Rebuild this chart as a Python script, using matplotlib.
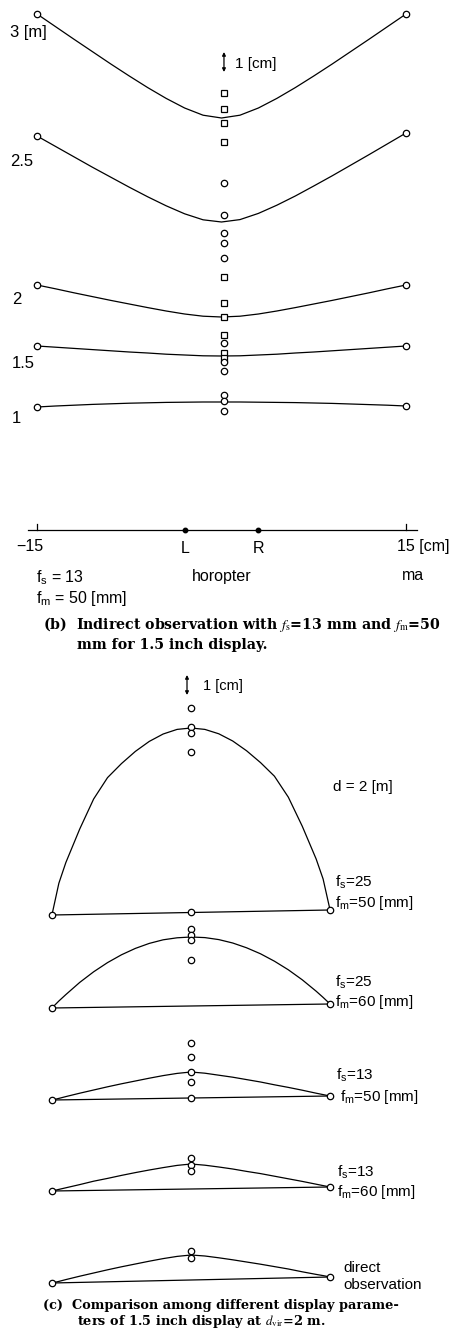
import matplotlib
matplotlib.use("Agg")
import matplotlib.pyplot as plt

plt.rcParams["font.family"] = ["Liberation Sans", "DejaVu Sans"]
plt.rcParams["mathtext.fontset"] = "custom"
plt.rcParams["mathtext.rm"] = "Liberation Sans"
plt.rcParams["mathtext.it"] = "Liberation Sans:italic"

# ---------------- data: panel (b) horopter curves ----------------
xb = [-15, -13.5, -12, -10.5, -9, -7.5, -6, -4.5, -3, -1.5, 0,
      1.5, 3, 4.5, 6, 7.5, 9, 10.5, 12, 13.5, 15]          # [cm]
b_3m = [25.8, 25.17, 24.54, 23.92, 23.30, 22.70, 22.12, 21.58, 21.10, 20.74, 20.6,
        20.74, 21.10, 21.58, 22.12, 22.70, 23.30, 23.92, 24.54, 25.17, 25.8]
b_25 = [19.7, 19.18, 18.66, 18.14, 17.64, 17.14, 16.66, 16.21, 15.81, 15.51, 15.4,
        15.52, 15.83, 16.24, 16.70, 17.20, 17.71, 18.24, 18.77, 19.31, 19.85]
b_2 = [12.25, 12.06, 11.86, 11.67, 11.48, 11.30, 11.12, 10.95, 10.80, 10.69, 10.65,
       10.69, 10.80, 10.95, 11.12, 11.30, 11.48, 11.67, 11.86, 12.06, 12.25]
b_15 = [9.2, 9.14, 9.08, 9.02, 8.96, 8.90, 8.85, 8.79, 8.75, 8.71, 8.7,
        8.71, 8.75, 8.79, 8.85, 8.90, 8.96, 9.02, 9.08, 9.14, 9.2]
b_1 = [6.15, 6.20, 6.24, 6.28, 6.31, 6.34, 6.36, 6.38, 6.39, 6.40, 6.4,
       6.40, 6.39, 6.38, 6.37, 6.35, 6.33, 6.30, 6.27, 6.24, 6.2]
b_curves = [b_3m, b_25, b_2, b_15, b_1]
b_labels = ["3 [m]", "2.5", "2", "1.5", "1"]

b_obs_x = 0.2
b_squares = [21.85, 21.05, 20.35, 19.4, 12.65, 11.35, 10.65, 9.75, 8.85, 8.6]
b_circles = [17.35, 15.75, 14.85, 14.35, 13.6, 9.35, 8.4, 7.95, 6.75, 6.45, 5.95]

eye_x = [-3.0, 3.0]
eye_labels = ["L", "R"]
b_ticks = [-15, 15]

# ---------------- data: panel (c) ----------------
xc = [-15, -14.25, -13.5, -12, -10.5, -9, -7.5, -6, -4.5, -3, -1.5, 0,
      1.5, 3, 4.5, 6, 7.5, 9, 10.5, 12, 13.5, 14.25, 15]
c1 = [20.8, 22.39, 23.42, 25.10, 26.60, 27.67, 28.37, 28.98, 29.48, 29.85, 30.08, 30.15,
      30.08, 29.86, 29.50, 29.01, 28.42, 27.74, 26.69, 25.24, 23.60, 22.60, 21.05]
c2 = [16.15, 16.50, 16.82, 17.43, 17.96, 18.42, 18.81, 19.13, 19.38, 19.56, 19.66, 19.7,
      19.67, 19.57, 19.40, 19.16, 18.86, 18.49, 18.06, 17.56, 16.99, 16.68, 16.35]
c3 = [11.55, 11.63, 11.72, 11.89, 12.05, 12.21, 12.36, 12.50, 12.64, 12.77, 12.88, 12.95,
      12.89, 12.79, 12.69, 12.57, 12.45, 12.31, 12.18, 12.04, 11.89, 11.82, 11.75]
c4 = [7.0, 7.08, 7.16, 7.32, 7.49, 7.63, 7.78, 7.92, 8.05, 8.17, 8.28, 8.35,
      8.29, 8.20, 8.10, 7.98, 7.87, 7.74, 7.61, 7.48, 7.34, 7.27, 7.2]
c5 = [2.4, 2.48, 2.57, 2.74, 2.90, 3.06, 3.21, 3.35, 3.49, 3.62, 3.73, 3.8,
      3.75, 3.66, 3.56, 3.45, 3.34, 3.22, 3.10, 2.96, 2.83, 2.77, 2.7]
c_curves = [c1, c2, c3, c4, c5]
c_obs = [[31.15, 30.2, 29.9, 28.95],
         [20.1, 19.8, 19.55, 18.55],
         [14.4, 13.7, 12.95, 12.45],
         [8.65, 8.3, 8.0],
         [4.0, 3.65]]
c_base_mid = [20.95, None, 11.65, None, None]
c_fs = ["25", "25", "13", "13"]
c_fm = ["50", "60", "50", "60"]

# ---------------- figure ----------------
W, H = 467, 1331
fig = plt.figure(figsize=(W / 100, H / 100), dpi=100)
fig.patch.set_facecolor("white")


def P(px, py):
    return px / W, 1 - py / H


LW = 0.9
MS = 4.6
mk = dict(mfc="white", mec="black", mew=0.9, ms=MS, linestyle="none")

# panel (b)
axb = fig.add_axes([0, 1 - 660 / H, 1, 660 / H])
axb.set_xlim(-18.01, 19.96)
axb.set_ylim(-6.5, 26.5)
axb.set_axis_off()
for yy in b_curves:
    axb.plot(xb, yy, color="black", lw=LW, zorder=2)
    axb.plot([xb[0], xb[-1]], [yy[0], yy[-1]], marker="o", zorder=4, **mk)
axb.plot([b_obs_x] * len(b_squares), b_squares, marker="s", zorder=4, **mk)
axb.plot([b_obs_x] * len(b_circles), b_circles, marker="o", zorder=4, **mk)
# baseline axis
axb.plot([-15.7, 15.9], [0, 0], color="black", lw=LW)
for t in b_ticks:
    axb.plot([t, t], [0, 0.3], color="black", lw=LW)
axb.plot(eye_x, [0, 0], "o", color="black", ms=3.2, linestyle="none")
axb.annotate("", xy=(b_obs_x, 23.9), xytext=(b_obs_x, 22.9),
             arrowprops=dict(arrowstyle="<|-|>", lw=0.9, color="black",
                             mutation_scale=5, shrinkA=0, shrinkB=0))

FS = 11.5
lab_pos = [(10, 32), (10, 161), (12, 300), (12, 364), (12, 418)]
for (px, py), s in zip(lab_pos, b_labels):
    fig.text(*P(px, py), s, fontsize=FS + 0.5, va="center", ha="left")
fig.text(*P(235, 64), "1 [cm]", fontsize=FS - 0.5, va="center", ha="left")
fig.text(*P(30, 547), "\u221215", fontsize=FS, va="center", ha="center")
fig.text(*P(185, 548), eye_labels[0], fontsize=FS, va="center", ha="center")
fig.text(*P(259, 548), eye_labels[1], fontsize=FS, va="center", ha="center")
fig.text(*P(397, 547), "15 [cm]", fontsize=FS, va="center", ha="left")
fig.text(*P(36, 578), r"$\mathregular{f_s}$ = 13", fontsize=FS, va="center", ha="left")
fig.text(*P(36, 599), r"$\mathregular{f_m}$ = 50 [mm]", fontsize=FS, va="center", ha="left")
fig.text(*P(192, 576), "horopter", fontsize=FS, va="center", ha="left")
fig.text(*P(402, 576), "ma", fontsize=FS, va="center", ha="left")

CAP = dict(fontweight="bold", family=["DejaVu Serif"],
           math_fontfamily="stix", va="center", ha="left")
fig.text(*P(43, 625), r"(b)  Indirect observation with $f_{\mathrm{s}}$=13 mm and $f_{\mathrm{m}}$=50",
         fontsize=10.2, **CAP)
fig.text(*P(77, 645), "mm for 1.5 inch display.", fontsize=10.2, **CAP)

# panel (c)
axc = fig.add_axes([0, 0, 1, 671 / H])
axc.set_xlim(-20.6, 29.77)
axc.set_ylim(0, 33.55)
axc.set_axis_off()
for yy, obs, mid in zip(c_curves, c_obs, c_base_mid):
    axc.plot(xc, yy, color="black", lw=LW, zorder=2)
    axc.plot([xc[0], xc[-1]], [yy[0], yy[-1]], color="black", lw=LW, zorder=2)
    axc.plot([xc[0], xc[-1]], [yy[0], yy[-1]], marker="o", zorder=4, **mk)
    axc.plot([0] * len(obs), obs, marker="o", zorder=4, **mk)
    if mid is not None:
        axc.plot([0], [mid], marker="o", zorder=4, **mk)
axc.annotate("", xy=(-0.43, 32.8), xytext=(-0.43, 31.8),
             arrowprops=dict(arrowstyle="<|-|>", lw=0.9, color="black",
                             mutation_scale=5, shrinkA=0, shrinkB=0))
FSC = 11
fig.text(*P(203, 686), "1 [cm]", fontsize=FSC - 0.5, va="center", ha="left")
fig.text(*P(333, 787), "d = 2 [m]", fontsize=FSC, va="center", ha="left")
fs_pos = [(335, 882, 335, 903), (335, 982, 335, 1002), (336, 1075, 340, 1097), (337, 1172, 337, 1192)]
for (x1, y1, x2, y2), s1, s2 in zip(fs_pos, c_fs, c_fm):
    fig.text(*P(x1, y1), r"$\mathregular{f_s}$=" + s1, fontsize=FSC, va="center", ha="left")
    fig.text(*P(x2, y2), r"$\mathregular{f_m}$=" + s2 + " [mm]", fontsize=FSC, va="center", ha="left")
fig.text(*P(343, 1268), "direct", fontsize=FSC, va="center", ha="left")
fig.text(*P(343, 1285), "observation", fontsize=FSC, va="center", ha="left")
fig.text(*P(43, 1306), "(c)  Comparison among different display parame-", fontsize=9.3, **CAP)
fig.text(*P(77, 1321), r"ters of 1.5 inch display at $d_{\mathrm{vir}}$=2 m.", fontsize=9.3, **CAP)

fig.savefig("out.png", dpi=100, facecolor="white")
